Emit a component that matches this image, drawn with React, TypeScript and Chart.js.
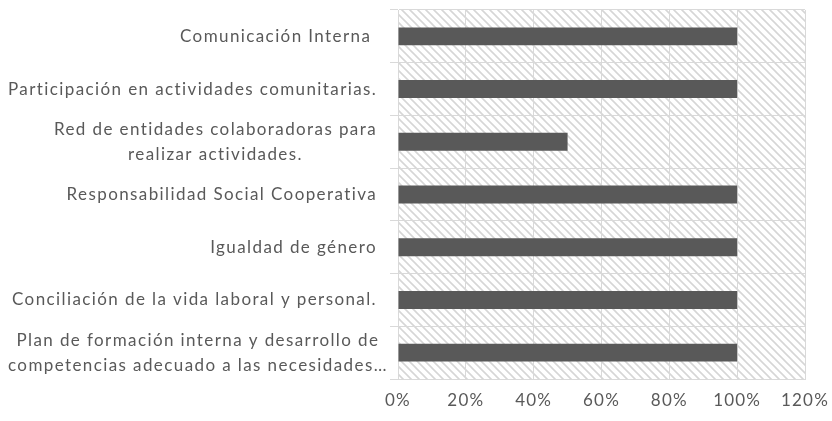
import React, { useEffect, useRef } from "react";
import { Chart, registerables } from "chart.js";

Chart.register(...registerables);

const categories: string[][] = [
  ["Comunicación Interna "],
  ["Participación en actividades comunitarias."],
  ["Red de entidades colaboradoras para", "realizar actividades."],
  ["Responsabilidad Social Cooperativa"],
  ["Igualdad de género"],
  ["Conciliación de la vida laboral y personal."],
  ["Plan de formación interna y desarrollo de", "competencias adecuado a las necesidades…"],
];
const values: number[] = [100, 100, 50, 100, 100, 100, 100];
const xMax = 120;
const xStep = 20;

const FONT = "Lato, 'Open Sans', sans-serif";
const TEXT = "#595959";
const GRID = "#d9d9d9";

function makePattern(): CanvasPattern | string {
  const c = document.createElement("canvas");
  c.width = 8;
  c.height = 8;
  const g = c.getContext("2d");
  if (!g) return "#fff";
  g.fillStyle = "#ffffff";
  g.fillRect(0, 0, 8, 8);
  g.strokeStyle = "#d6d6d6";
  g.lineWidth = 1.6;
  g.beginPath();
  g.moveTo(-2, -2);
  g.lineTo(10, 10);
  g.moveTo(-2, 6);
  g.lineTo(2, 10);
  g.moveTo(6, -2);
  g.lineTo(10, 2);
  g.stroke();
  const p = g.createPattern(c, "repeat");
  return p || "#fff";
}

export default function App() {
  const ref = useRef<HTMLCanvasElement>(null);
  useEffect(() => {
    document.body.style.margin = "0";
    const canvas = ref.current;
    if (!canvas) return;
    const pattern = makePattern();
    const bgPlugin = {
      id: "hatchBg",
      beforeDraw(chart: any) {
        const { ctx, chartArea } = chart;
        ctx.save();
        ctx.fillStyle = pattern;
        ctx.fillRect(chartArea.left, chartArea.top, chartArea.right - chartArea.left, chartArea.bottom - chartArea.top);
        ctx.restore();
      },
    };
    const labelPlugin = {
      id: "catLabels",
      afterDraw(chart: any) {
        const { ctx } = chart;
        const yScale = chart.scales.y;
        const xScale = chart.scales.x;
        const rightX = 377;
        const leftX = 8;
        const lineH = 25;
        ctx.save();
        ctx.font = `17px ${FONT}`;
        (ctx as any).letterSpacing = "1.4px";
        ctx.fillStyle = TEXT;
        ctx.textBaseline = "middle";
        ctx.textAlign = "center";
        categories.forEach((lines, i) => {
          const y = yScale.getPixelForValue(i);
          const maxW = Math.max(...lines.map((l) => ctx.measureText(l).width));
          const cx = Math.max(rightX - maxW / 2, leftX + maxW / 2);
          const startY = y - ((lines.length - 1) * lineH) / 2;
          lines.forEach((l, j) => {
            ctx.fillText(l, cx, startY + j * lineH);
          });
        });
        (ctx as any).letterSpacing = "1.2px";
        xScale.ticks.forEach((t: any) => {
          const x = xScale.getPixelForValue(t.value);
          ctx.fillText(`${t.value}%`, x, 401);
        });
        ctx.restore();
      },
    };
    const chart = new Chart(canvas, {
      type: "bar",
      data: {
        labels: categories.map((c) => c.join(" ")),
        datasets: [
          {
            data: values,
            backgroundColor: "#595959",
            borderWidth: 0,
            categoryPercentage: 1,
            barPercentage: 0.34,
          },
        ],
      },
      options: {
        indexAxis: "y",
        animation: false,
        responsive: false,
        maintainAspectRatio: false,
        layout: { padding: { top: 10, right: 27, left: 0, bottom: 0 } },
        plugins: { legend: { display: false }, tooltip: { enabled: false } },
        scales: {
          x: {
            min: 0,
            max: xMax,
            ticks: {
              stepSize: xStep,
              display: false,
            },
            grid: { color: GRID, drawTicks: false, lineWidth: 1 },
            border: { color: GRID },
            afterFit(scale: any) {
              scale.height = 421 - 379;
            },
          },
          y: {
            ticks: { display: false },
            grid: { color: GRID, offset: true, drawTicks: true, tickLength: 8, lineWidth: 1 },
            border: { color: GRID },
            afterFit(scale: any) {
              scale.width = 398;
            },
          },
        },
      },
      plugins: [bgPlugin, labelPlugin],
    } as any);
    return () => chart.destroy();
  }, []);
  return (
    <div style={{ width: 832, height: 421 }}>
      <canvas ref={ref} width={832} height={421} style={{ display: "block" }} />
    </div>
  );
}
